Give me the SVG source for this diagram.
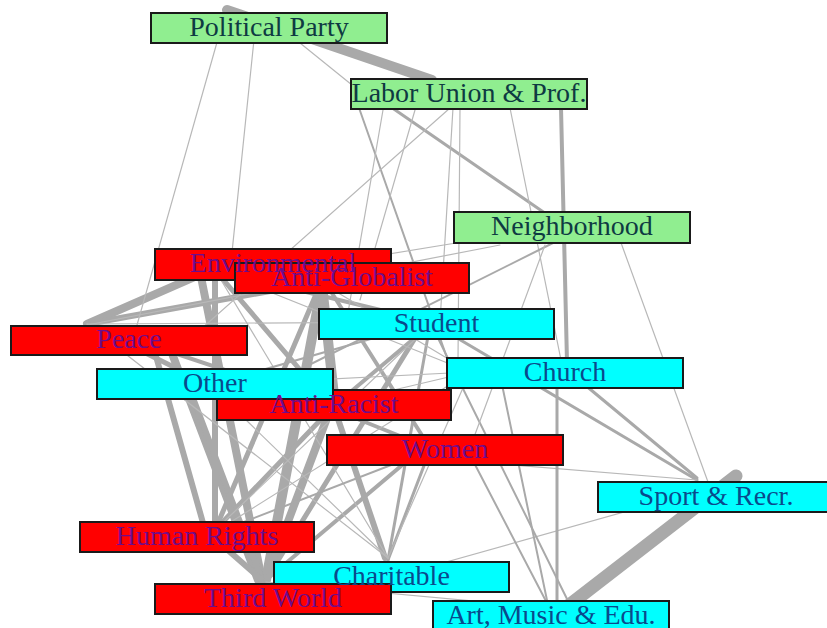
<svg xmlns="http://www.w3.org/2000/svg" width="827" height="628" viewBox="0 0 827 628">
<style>
.e{stroke:#a9a9a9;stroke-linecap:round;fill:none}
.t1{stroke-width:1.2;stroke:#b8b8b8}
.t2{stroke-width:2}
.t3{stroke-width:3}
.t4{stroke-width:4}
.t5{stroke-width:5}
.t6{stroke-width:6}
.t8{stroke-width:8}
.t10{stroke-width:10}
.t13{stroke-width:13}
.box{stroke:#1a1a1a;stroke-width:2}
.g{fill:#90ee90}
.r{fill:#ff0000}
.c{fill:#00ffff}
.lbl{font-family:"Liberation Serif","Times New Roman",serif;font-size:28px;text-anchor:middle}
.lg{fill:#0e3a42}
.lr{fill:#6e0c8c}
.lc{fill:#0a4a8c}
</style>
<rect width="827" height="628" fill="#ffffff"/>
<g id="connectors">
<line x1="227" y1="10" x2="432" y2="80" class="e t10"/>
<line x1="736" y1="476" x2="568" y2="606" class="e t13"/>
<line x1="87" y1="324" x2="215" y2="268" class="e t8"/>
<line x1="87" y1="324" x2="320" y2="282" class="e t6"/>
<line x1="87" y1="324" x2="210" y2="385" class="e t5"/>
<line x1="150" y1="335" x2="205" y2="530" class="e t6"/>
<line x1="165" y1="335" x2="258" y2="580" class="e t8"/>
<line x1="200" y1="272" x2="262" y2="580" class="e t8"/>
<line x1="322" y1="285" x2="266" y2="580" class="e t10"/>
<line x1="322" y1="285" x2="335" y2="405" class="e t10"/>
<line x1="215" y1="268" x2="320" y2="282" class="e t6"/>
<line x1="190" y1="390" x2="262" y2="580" class="e t6"/>
<line x1="330" y1="410" x2="266" y2="580" class="e t8"/>
<line x1="205" y1="530" x2="262" y2="580" class="e t6"/>
<line x1="335" y1="410" x2="385" y2="558" class="e t6"/>
<line x1="215" y1="270" x2="215" y2="530" class="e t6"/>
<line x1="320" y1="285" x2="215" y2="530" class="e t5"/>
<line x1="330" y1="410" x2="215" y2="530" class="e t5"/>
<line x1="420" y1="330" x2="266" y2="580" class="e t5"/>
<line x1="420" y1="450" x2="266" y2="580" class="e t4"/>
<line x1="87" y1="324" x2="330" y2="405" class="e t4"/>
<line x1="215" y1="270" x2="330" y2="405" class="e t5"/>
<line x1="215" y1="270" x2="430" y2="322" class="e t4"/>
<line x1="430" y1="325" x2="335" y2="405" class="e t4"/>
<line x1="330" y1="290" x2="430" y2="448" class="e t4"/>
<line x1="430" y1="450" x2="388" y2="560" class="e t3"/>
<line x1="430" y1="325" x2="388" y2="560" class="e t3"/>
<line x1="335" y1="410" x2="430" y2="448" class="e t4"/>
<line x1="225" y1="14" x2="137" y2="325" class="e t1"/>
<line x1="255" y1="30" x2="231" y2="262" class="e t1"/>
<line x1="300" y1="43" x2="352" y2="85" class="e t1"/>
<line x1="358" y1="105" x2="452" y2="372" class="e t2"/>
<line x1="388" y1="105" x2="552" y2="218" class="e t3"/>
<line x1="383" y1="110" x2="345" y2="330" class="e t1"/>
<line x1="415" y1="110" x2="360" y2="300" class="e t1"/>
<line x1="450" y1="108" x2="200" y2="330" class="e t1"/>
<line x1="453" y1="108" x2="440" y2="322" class="e t1"/>
<line x1="460" y1="108" x2="458" y2="362" class="e t1"/>
<line x1="510" y1="108" x2="561" y2="360" class="e t1"/>
<line x1="561" y1="108" x2="567" y2="362" class="e t4"/>
<line x1="456" y1="243" x2="340" y2="262" class="e t1"/>
<line x1="87" y1="325" x2="500" y2="245" class="e t1"/>
<line x1="555" y1="242" x2="255" y2="392" class="e t2"/>
<line x1="620" y1="240" x2="708" y2="482" class="e t1"/>
<line x1="430" y1="322" x2="697" y2="480" class="e t3"/>
<line x1="555" y1="360" x2="697" y2="478" class="e t3"/>
<line x1="440" y1="459" x2="697" y2="480" class="e t1"/>
<line x1="720" y1="485" x2="400" y2="575" class="e t1"/>
<line x1="557" y1="380" x2="557" y2="602" class="e t3"/>
<line x1="430" y1="322" x2="570" y2="605" class="e t2"/>
<line x1="500" y1="375" x2="548" y2="605" class="e t2"/>
<line x1="266" y1="582" x2="550" y2="608" class="e t1"/>
<line x1="470" y1="372" x2="388" y2="558" class="e t1"/>
<line x1="210" y1="385" x2="388" y2="558" class="e t1"/>
<line x1="87" y1="324" x2="388" y2="558" class="e t1"/>
<line x1="215" y1="270" x2="388" y2="558" class="e t1"/>
<line x1="210" y1="535" x2="470" y2="372" class="e t1"/>
<line x1="210" y1="535" x2="430" y2="450" class="e t2"/>
<line x1="210" y1="535" x2="430" y2="325" class="e t1"/>
<line x1="330" y1="405" x2="470" y2="372" class="e t1"/>
<line x1="210" y1="385" x2="470" y2="372" class="e t1"/>
<line x1="210" y1="385" x2="430" y2="322" class="e t2"/>
<line x1="87" y1="324" x2="430" y2="322" class="e t1"/>
<line x1="215" y1="270" x2="470" y2="372" class="e t1"/>
<line x1="320" y1="282" x2="470" y2="372" class="e t1"/>
<line x1="545" y1="245" x2="470" y2="448" class="e t1"/>
<line x1="548" y1="605" x2="470" y2="455" class="e t2"/>
</g>
<g id="nodes">
<g id="node-political-party"><rect class="box g" x="151" y="13" width="236" height="30"/></g>
<g id="node-labor-union"><rect class="box g" x="351" y="79" width="236" height="30"/></g>
<g id="node-neighborhood"><rect class="box g" x="454" y="212" width="236" height="31"/></g>
<g id="node-environmental"><rect class="box r" x="155" y="249" width="236" height="31"/></g>
<g id="node-anti-globalist"><rect class="box r" x="235" y="263" width="234" height="30"/></g>
<g id="node-peace"><rect class="box r" x="11" y="326" width="236" height="29"/></g>
<g id="node-student"><rect class="box c" x="319" y="309" width="235" height="30"/></g>
<g id="node-church"><rect class="box c" x="447" y="358" width="236" height="30"/></g>
<g id="node-anti-racist"><rect class="box r" x="217" y="390" width="234" height="30"/></g>
<g id="node-other"><rect class="box c" x="97" y="369" width="236" height="30"/></g>
<g id="node-women"><rect class="box r" x="327" y="435" width="236" height="30"/></g>
<g id="node-sport"><rect class="box c" x="598" y="482" width="236" height="30"/></g>
<g id="node-human-rights"><rect class="box r" x="80" y="522" width="234" height="30"/></g>
<g id="node-charitable"><rect class="box c" x="274" y="562" width="235" height="30"/></g>
<g id="node-third-world"><rect class="box r" x="155" y="584" width="236" height="30"/></g>
<g id="node-art-music"><rect class="box c" x="433" y="601" width="236" height="30"/></g>
</g>
<g id="labels">
<text class="lbl lg" x="269" y="35.5">Political Party</text>
<text class="lbl lg" x="469" y="101.5">Labor Union &amp; Prof.</text>
<text class="lbl lg" x="572" y="234.5">Neighborhood</text>
<text class="lbl lr" x="273" y="272">Environmental</text>
<text class="lbl lr" x="352" y="285.5">Anti-Globalist</text>
<text class="lbl lr" x="129" y="348">Peace</text>
<text class="lbl lc" x="436.5" y="331.5">Student</text>
<text class="lbl lc" x="565" y="380.5">Church</text>
<text class="lbl lr" x="334" y="412.5">Anti-Racist</text>
<text class="lbl lc" x="215" y="391.5">Other</text>
<text class="lbl lr" x="445" y="457.5">Women</text>
<text class="lbl lc" x="716" y="504.5">Sport &amp; Recr.</text>
<text class="lbl lr" x="197" y="544.5">Human Rights</text>
<text class="lbl lc" x="391.5" y="584.5">Charitable</text>
<text class="lbl lr" x="273" y="606.5">Third World</text>
<text class="lbl lc" x="551" y="623.5">Art, Music &amp; Edu.</text>
</g>
</svg>
